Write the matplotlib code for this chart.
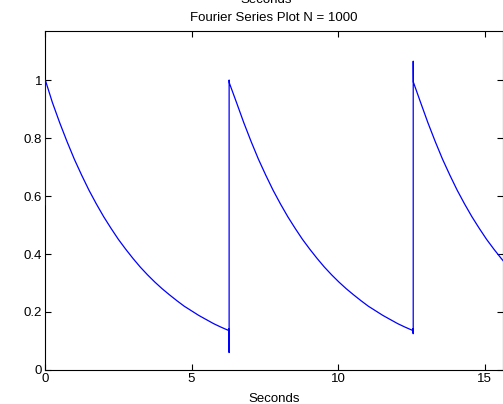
import numpy as np
import matplotlib
matplotlib.use('Agg')
import matplotlib.pyplot as plt
from matplotlib.ticker import FuncFormatter

plt.rcParams['font.family'] = ['Liberation Sans', 'DejaVu Sans']

# one period of the decaying curve (offset from each jump)
period = 6.2832
decay_t = [0.25, 0.5, 0.75, 1.0, 1.25, 1.5, 1.75, 2.0, 2.25, 2.5, 2.75, 3.0, 3.25,
           3.5, 3.75, 4.0, 4.25, 4.5, 4.75, 5.0, 5.25, 5.5, 5.75, 6.0, 6.25]
decay_y = [0.923, 0.853, 0.788, 0.727, 0.672, 0.620, 0.573, 0.529, 0.489, 0.451,
           0.417, 0.385, 0.355, 0.328, 0.303, 0.280, 0.259, 0.239, 0.220, 0.204,
           0.188, 0.174, 0.160, 0.148, 0.137]

# Gibbs spikes at the start and at the two jumps
start_t = [0.0, 0.01]
start_y = [0.57, 1.0]
jump1_t = [6.27, 6.278, 6.2832, 6.2832, 6.29]
jump1_y = [0.142, 0.131, 0.06, 1.0, 0.99]
jump2_t = [12.55, 12.56, 12.566, 12.566, 12.57]
jump2_y = [0.142, 0.128, 0.125, 1.065, 0.993]

t = start_t + decay_t + jump1_t + [period + d for d in decay_t] \
    + jump2_t + [2 * period + d for d in decay_t]
y = start_y + decay_y + jump1_y + decay_y + jump2_y + decay_y

fig = plt.figure(figsize=(5.03, 4.04), dpi=100)
ax = fig.add_axes([0.0895, 0.0842, 0.9105, 0.839])
ax.plot(t, y, color='#0000FF', lw=0.9, zorder=3)

ax.set_xlim(0, 15.63)
ax.set_ylim(0, 1.169)
ax.set_xticks([0, 5, 10, 15])
ax.set_yticks([0, 0.2, 0.4, 0.6, 0.8, 1])
ax.yaxis.set_major_formatter(FuncFormatter(lambda v, p: f'{v:g}'))
ax.tick_params(direction='in', length=4, width=0.8, labelsize=9.5,
               top=True, right=True, pad=2)
for s in ax.spines.values():
    s.set_linewidth(0.8)

ax.set_title('Fourier Series Plot N = 1000', fontsize=9.5, pad=7)
ax.set_xlabel('Seconds', fontsize=9.5, labelpad=6)

# cut-off xlabel of the subplot above
fig.text(0.53, 1.0, 'Seconds', fontsize=9.5, ha='center', va='center')

fig.savefig('out.png', dpi=100)
